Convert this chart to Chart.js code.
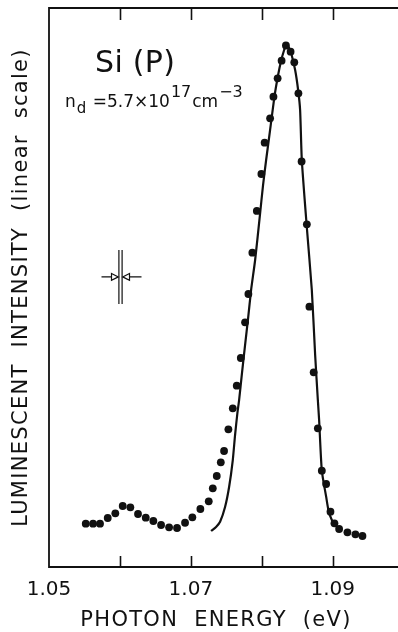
<!DOCTYPE html>
<html>
<head>
<meta charset="utf-8">
<script src="https://cdn.jsdelivr.net/npm/chart.js@4/dist/chart.umd.min.js"></script>
<style>
  html, body { margin: 0; padding: 0; background: #fff; }
  #wrap { width: 398px; height: 632px; }
</style>
</head>
<body>
<div id="wrap"><canvas id="chart" width="398" height="632"></canvas></div>
<script>
// measured points (photon energy in eV, intensity in arbitrary linear units 0-100)
var dotEnergy = [1.05518, 1.05621, 1.05719, 1.05828, 1.05935, 1.06039, 1.06147, 1.06255, 1.06364, 1.06471,
	1.06580, 1.06693, 1.06805, 1.06918, 1.07021, 1.07134, 1.07252, 1.07309, 1.07365, 1.07422,
	1.07468, 1.07529, 1.07591, 1.07647, 1.07704, 1.07764, 1.07811, 1.07867, 1.07930, 1.07994,
	1.08040, 1.08117, 1.08164, 1.08223, 1.08279, 1.08340, 1.08406, 1.08458, 1.08516, 1.08561,
	1.08635, 1.08671, 1.08731, 1.08790, 1.08846, 1.08907, 1.08968, 1.09024, 1.09090, 1.09207,
	1.09320, 1.09419];
var dotIntensity = [7.75, 7.75, 7.75, 8.77, 9.61, 10.91, 10.68, 9.48, 8.82, 8.23,
	7.51, 7.10, 6.98, 7.92, 8.89, 10.38, 11.75, 14.08, 16.28, 18.73,
	20.75, 24.63, 28.39, 32.43, 37.39, 43.77, 48.84, 56.23, 63.69, 70.30,
	75.90, 80.27, 84.13, 87.42, 90.57, 93.29, 92.18, 90.29, 84.74, 72.54,
	61.31, 46.57, 34.83, 24.81, 17.23, 14.85, 9.89, 7.82, 6.80, 6.21,
	5.85, 5.55];

// calculated line shape
var fitEnergy = [1.07285, 1.07355, 1.07412, 1.07482, 1.07539, 1.07591, 1.07623, 1.07656, 1.07680, 1.07722,
	1.07764, 1.07807, 1.07849, 1.07906, 1.07969, 1.08018, 1.08061, 1.08117, 1.08178, 1.08230,
	1.08272, 1.08315, 1.08343, 1.08378, 1.08413, 1.08470, 1.08512, 1.08540, 1.08564, 1.08632,
	1.08705, 1.08752, 1.08790, 1.08808, 1.08846, 1.08907, 1.08939, 1.08987, 1.09058, 1.09104];
var fitIntensity = [6.44, 7.16, 8.10, 10.73, 14.31, 19.14, 23.61, 27.55, 29.87, 34.88,
	39.71, 44.54, 49.55, 54.92, 62.43, 68.34, 72.81, 78.18, 84.13, 88.01,
	90.57, 92.49, 93.38, 93.02, 91.95, 88.91, 85.33, 81.75, 72.81, 61.18,
	49.55, 37.92, 29.87, 26.30, 17.23, 12.58, 10.20, 8.41, 7.21, 6.74];

var tickValues = [1.06, 1.07, 1.08, 1.09];
var tickLabels = ["1.05", "1.07", "1.09"];

var FONT = "'DejaVu Sans', sans-serif";
var INK = "#111";

function pairs(xs, ys) {
	return xs.map(function(x, i) { return { x : x, y : ys[i] }; });
}

// frame, inward ticks, axis titles and the text / resolution marker inside the plot
var framePlugin = {
	id : "frame",
	afterDraw : function(chart) {
		var ctx = chart.ctx;
		var a = chart.chartArea;
		var xs = chart.scales.x;
		var ys = chart.scales.y;
		ctx.save();
		ctx.strokeStyle = INK;
		ctx.fillStyle = INK;
		ctx.lineWidth = 1.8;
		ctx.beginPath();
		ctx.moveTo(a.right + 2, a.top);
		ctx.lineTo(a.left, a.top);
		ctx.lineTo(a.left, a.bottom);
		ctx.lineTo(a.right + 2, a.bottom);
		ctx.stroke();

		ctx.lineWidth = 1.6;
		tickValues.forEach(function(v) {
			var px = Math.round(xs.getPixelForValue(v)) + 0.5;
			ctx.beginPath();
			ctx.moveTo(px, a.bottom);
			ctx.lineTo(px, a.bottom - 11);
			ctx.moveTo(px, a.top);
			ctx.lineTo(px, a.top + 12);
			ctx.stroke();
		});

		// axis titles, spaced out like the original lettering
		ctx.letterSpacing = "1.3px";
		ctx.font = "21px " + FONT;
		ctx.textAlign = "center";
		ctx.textBaseline = "middle";
		ctx.fillText("PHOTON  ENERGY  (eV)", 216, 621);
		ctx.save();
		ctx.translate(22, (a.top + a.bottom) / 2);
		ctx.rotate(-Math.PI / 2);
		ctx.fillText("LUMINESCENT  INTENSITY  (linear  scale)", 0, 0);
		ctx.restore();

		// sample name
		ctx.letterSpacing = "0.3px";
		ctx.textAlign = "left";
		ctx.textBaseline = "alphabetic";
		var x0 = xs.getPixelForValue(1.05649);
		var y0 = ys.getPixelForValue(88.5);
		ctx.font = "30px " + FONT;
		ctx.fillText("Si (P)", x0, y0);

		// donor concentration
		ctx.letterSpacing = "0px";
		var x = xs.getPixelForValue(1.05226);
		var yb = ys.getPixelForValue(82.3);
		var parts = [
			["n", 17, 0], ["d", 15, 6], [" =5.7\u00d710", 17, 0], ["17", 16, -10],
			["cm", 17, 0], ["\u22123", 16, -10]
		];
		parts.forEach(function(p) {
			ctx.font = p[1] + "px " + FONT;
			ctx.fillText(p[0], x, yb + p[2]);
			x += ctx.measureText(p[0]).width + 1;
		});

		// spectral resolution marker
		var cx = xs.getPixelForValue(1.06008);
		var cy = ys.getPixelForValue(51.9);
		ctx.lineWidth = 1.2;
		ctx.beginPath();
		ctx.moveTo(cx - 1.6, cy - 27); ctx.lineTo(cx - 1.6, cy + 27);
		ctx.moveTo(cx + 1.6, cy - 27); ctx.lineTo(cx + 1.6, cy + 27);
		ctx.moveTo(cx - 19, cy); ctx.lineTo(cx - 9, cy);
		ctx.moveTo(cx + 9, cy); ctx.lineTo(cx + 21, cy);
		ctx.stroke();
		ctx.fillStyle = "#fff";
		ctx.beginPath();
		ctx.moveTo(cx - 9, cy - 3.3); ctx.lineTo(cx - 2.2, cy); ctx.lineTo(cx - 9, cy + 3.3); ctx.closePath();
		ctx.moveTo(cx + 9, cy - 3.3); ctx.lineTo(cx + 2.2, cy); ctx.lineTo(cx + 9, cy + 3.3); ctx.closePath();
		ctx.fill();
		ctx.stroke();
		ctx.restore();
	}
};

var ctx = document.getElementById("chart");

var chart = new Chart(ctx, {
	type : "scatter",
	data : {
		datasets : [
			{
				label : "measured",
				data : pairs(dotEnergy, dotIntensity),
				backgroundColor : INK,
				borderWidth : 0,
				pointRadius : 3.9,
				showLine : false
			},
			{
				label : "calculated",
				data : pairs(fitEnergy, fitIntensity),
				borderColor : INK,
				borderWidth : 2.2,
				pointRadius : 0,
				showLine : true,
				fill : false,
				tension : 0.2
			}
		]
	},
	options : {
		responsive : false,
		animation : false,
		layout : {
			autoPadding : false,
			padding : { top : 8, right : 0, left : 0, bottom : 0 }
		},
		plugins : {
			legend : { display : false },
			tooltip : { enabled : false }
		},
		scales : {
			x : {
				type : "linear",
				min : 1.05,
				max : 1.0992,
				grid : { display : false, drawTicks : false },
				border : { display : false },
				afterFit : function(s) {
					s.height = 65;
					s.paddingLeft = 0;
					s.paddingRight = 0;
				},
				ticks : {
					stepSize : 0.01,
					includeBounds : false,
					autoSkip : false,
					maxRotation : 0,
					padding : 11,
					color : INK,
					font : { family : FONT, size : 20 },
					callback : function(v) {
						var s = (Math.round(v * 100) / 100).toFixed(2);
						return (Math.abs(v * 100 - Math.round(v * 100)) < 1e-6 && tickLabels.indexOf(s) >= 0) ? s : "";
					}
				}
			},
			y : {
				type : "linear",
				min : 0,
				max : 100,
				grid : { display : false, drawTicks : false },
				border : { display : false },
				afterFit : function(s) {
					s.width = 49;
					s.paddingTop = 0;
					s.paddingBottom = 0;
				},
				ticks : { display : false }
			}
		}
	},
	plugins : [framePlugin]
});
</script>
</body>
</html>
